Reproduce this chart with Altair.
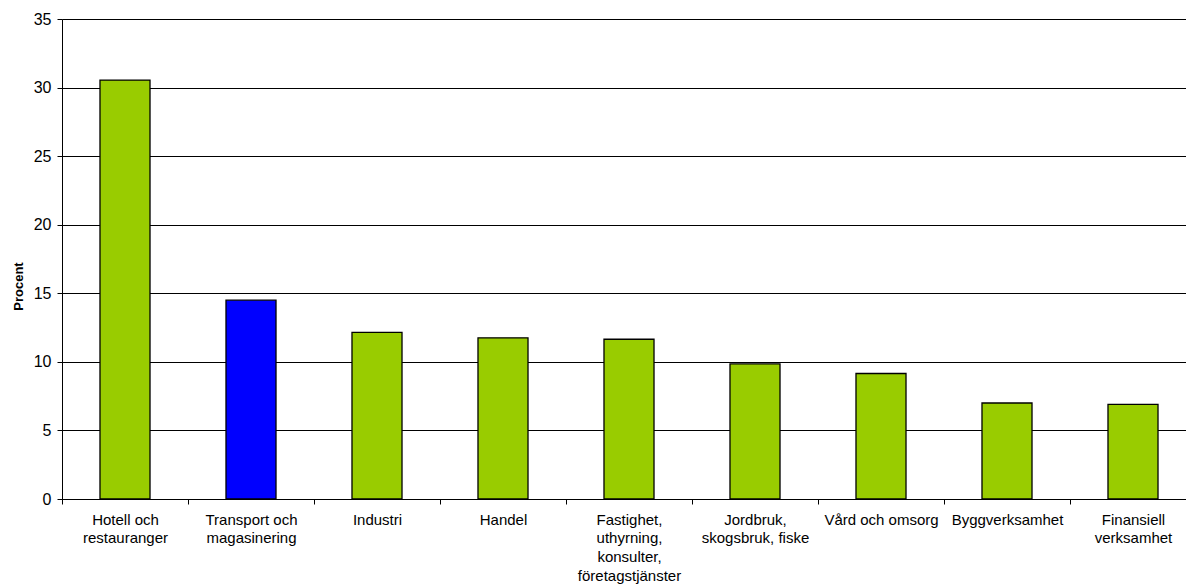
import altair as alt
import pandas as pd

categories = [
    "Hotell och|restauranger",
    "Transport och|magasinering",
    "Industri",
    "Handel",
    "Fastighet,|uthyrning,|konsulter,|företagstjänster",
    "Jordbruk,|skogsbruk, fiske",
    "Vård och omsorg",
    "Byggverksamhet",
    "Finansiell|verksamhet",
]
values = [30.55, 14.5, 12.15, 11.75, 11.65, 9.85, 9.15, 7.0, 6.9]
colors = ["#99CC00", "#0000FF", "#99CC00", "#99CC00", "#99CC00",
          "#99CC00", "#99CC00", "#99CC00", "#99CC00"]

df = pd.DataFrame({"cat": categories, "val": values, "col": colors})

chart = alt.Chart(df).mark_bar(stroke="black", strokeWidth=1.3).encode(
    x=alt.X(
        "cat:N",
        sort=categories,
        title=None,
        scale=alt.Scale(range=[0, 1134], paddingInner=0.603, paddingOuter=0.3015),
        axis=alt.Axis(
            labelAngle=0,
            labelExpr="split(datum.label, '|')",
            labelFont="Liberation Sans",
            labelFontSize=15,
            labelColor="black",
            labelLineHeight=18.7,
            labelPadding=8,
            labelLimit=300,
            tickOffset=-63,
            labelOffset=63,
            tickSize=5,
            tickColor="black",
            domainColor="black",
            grid=False,
        ),
    ),
    y=alt.Y(
        "val:Q",
        scale=alt.Scale(domain=[0, 35], nice=False),
        axis=alt.Axis(
            values=[0, 5, 10, 15, 20, 25, 30, 35],
            title="Procent",
            titleFont="Liberation Sans",
            titleFontSize=13,
            titleFontWeight="bold",
            titleColor="black",
            titleAngle=270,
            titleX=-44,
            titleY=267,
            titleAlign="center",
            titleBaseline="middle",
            labelFont="Liberation Sans",
            labelFontSize=16,
            labelColor="black",
            labelPadding=6,
            tickSize=5,
            tickColor="black",
            domainColor="black",
            gridColor="black",
            gridWidth=1,
            gridOpacity=1,
        ),
    ),
    color=alt.Color("col:N", scale=None, legend=None),
).properties(
    width=1124,
    height=480,
    autosize=alt.AutoSizeParams(type="none"),
    padding={"left": 62, "top": 19, "right": 0, "bottom": 85},
).configure_view(stroke=None).configure(background="white")

chart.save("out.html", embed_options={"renderer": "svg", "actions": False})
